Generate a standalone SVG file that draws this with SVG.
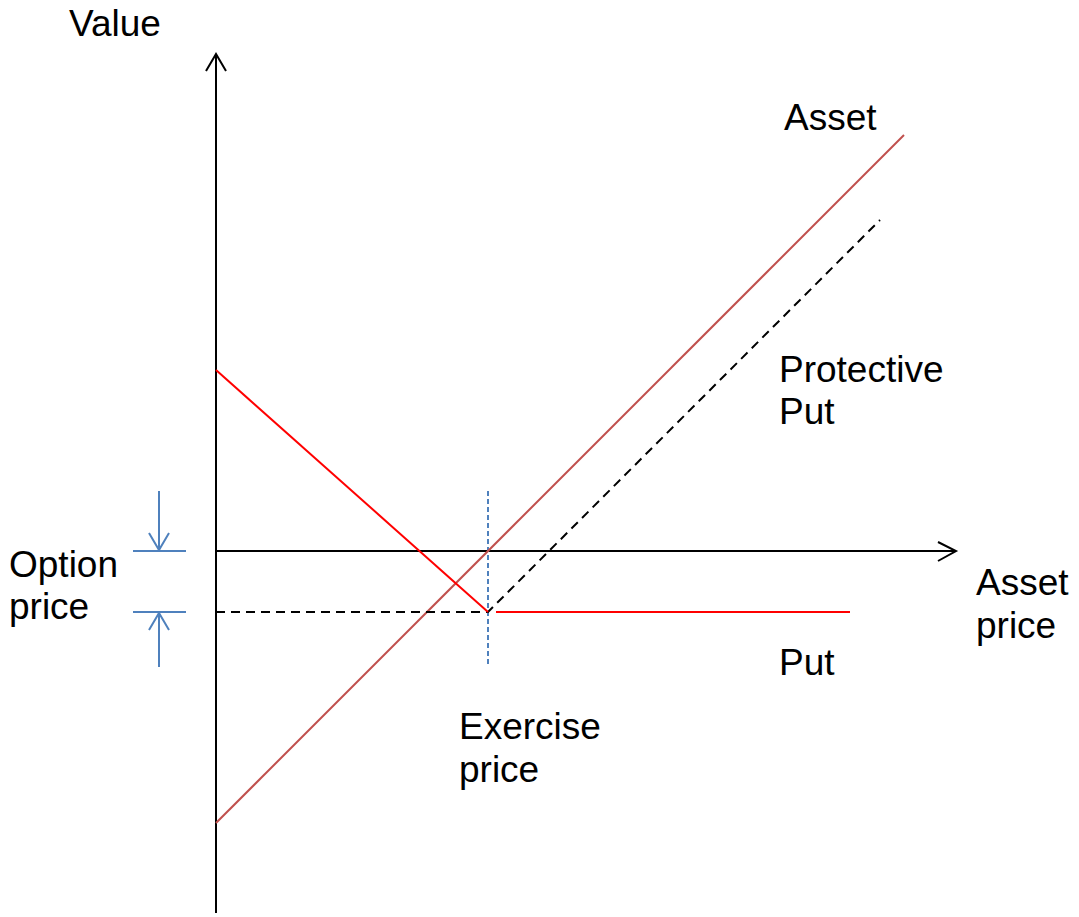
<svg xmlns="http://www.w3.org/2000/svg" width="1079" height="917" viewBox="0 0 1079 917">
<style>
text{font-family:"Liberation Sans",Arial,sans-serif;font-size:37px;fill:#000}
.ax{stroke:#000;stroke-width:2;fill:none}
.asset{stroke:#C0504D;stroke-width:2;fill:none}
.put{stroke:#FF0000;stroke-width:2;fill:none}
.pp{stroke:#000;stroke-width:2;fill:none;stroke-dasharray:9,6}
.blue{stroke:#4F81BD;stroke-width:2;fill:none}
.bluedash{stroke:#4F81BD;stroke-width:2;fill:none;stroke-dasharray:5,3}
</style>
<rect width="1079" height="917" fill="#fff"/>
<g id="connectors">
<g id="axes">
<path class="ax" d="M216,913 V54"/>
<path class="ax" d="M206,71 L216,54 L226,71"/>
<path class="ax" d="M216,551 H956"/>
<path class="ax" d="M938,542 L956,551 L938,561"/>
</g>
<path id="exercise-line" class="bluedash" d="M488,491 V666"/>
<path id="asset-line" class="asset" d="M216,823 L904,135"/>
<path id="protective-put-line" class="pp" d="M216,612 H488 L880,220"/>
<g id="put-line">
<path class="put" d="M216,370 L488,612"/>
<path class="put" d="M496,612 H850"/>
</g>
<g id="option-price-marker">
<path class="blue" d="M133,551 H186 M133,612 H186"/>
<path class="blue" d="M159,491 V550 M149,533 L159,550 L169,533"/>
<path class="blue" d="M159,667 V613 M149,630 L159,613 L169,630"/>
</g>
</g>
<g id="label-value"><text x="69" y="36">Value</text></g>
<g id="label-asset"><text x="784" y="130">Asset</text></g>
<g id="label-protective-put"><text x="779" y="382">Protective</text><text x="779" y="424">Put</text></g>
<g id="label-option-price"><text x="9" y="577">Option</text><text x="9" y="619">price</text></g>
<g id="label-asset-price"><text x="976" y="595">Asset</text><text x="976" y="638">price</text></g>
<g id="label-put"><text x="779" y="675">Put</text></g>
<g id="label-exercise-price"><text x="459" y="739">Exercise</text><text x="459" y="782">price</text></g>
</svg>
